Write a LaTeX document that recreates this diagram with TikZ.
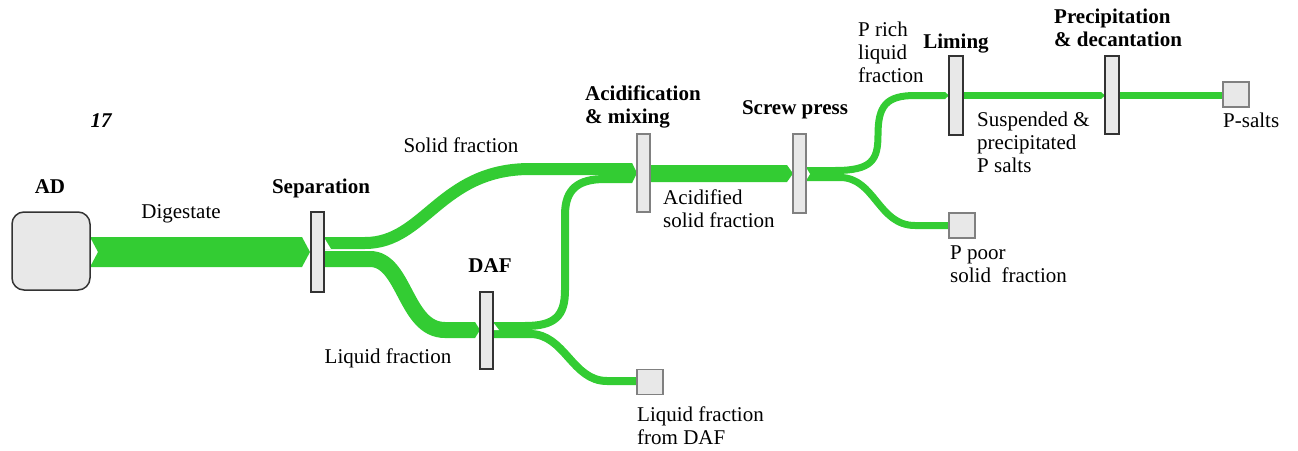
\documentclass[tikz,border=0pt]{standalone}
\usepackage{fontspec}
\setmainfont{Liberation Serif}
\definecolor{flowgreen}{HTML}{33CC33}
\definecolor{barfill}{HTML}{E8E8E8}
\definecolor{darkedge}{HTML}{333333}
\definecolor{greyedge}{HTML}{808080}
\begin{document}
\begin{tikzpicture}[x=1pt,y=-1pt,
  flow/.style={draw=flowgreen, line cap=butt},
  flowfill/.style={fill=flowgreen},
  notch/.style={fill=white},
  bar/.style={draw=darkedge, fill=barfill, line width=1.3pt, minimum width=13pt, inner sep=0pt},
  lightbar/.style={bar, draw=greyedge},
  endbox/.style={draw=greyedge, fill=barfill, line width=1.3pt, minimum width=26pt, minimum height=25pt, inner sep=0pt},
  txt/.style={font=\fontsize{21}{23}\selectfont, inner sep=0pt, anchor=base},
  btxt/.style={font=\fontsize{21}{23}\selectfont\bfseries, inner sep=0pt, anchor=base},
  mtxt/.style={font=\fontsize{21}{23}\selectfont, inner sep=0pt, anchor=base west},
  mbtxt/.style={font=\fontsize{21}{23}\selectfont\bfseries, inner sep=0pt, anchor=base west}]
\useasboundingbox (0,0) rectangle (1298,450);

% ---------- flows ----------
% Digestate
\fill[flowfill] (90,237) -- (302,237) -- (310,252) -- (302,267) -- (90,267) -- (98,252) -- cycle;
% Solid fraction
\draw[flow, line width=12pt] (324,243) -- (365,243) .. controls (425,243) and (440,169) .. (530,169) -- (632,169);
% Liquid fraction
\draw[flow, line width=16pt] (324,259) -- (370,259) .. controls (405,259) and (405,330) .. (445,330) -- (475,330);
\fill[flowfill] (475,322) -- (480,330) -- (475,338) -- cycle;
% DAF solids to acidification
\draw[flow, line width=8pt] (493,326) -- (525,326) .. controls (555,326) and (565,316) .. (565,290) -- (565,215) .. controls (565,189) and (578,179) .. (605,179) -- (632,179);
\fill[flowfill] (632,163) -- (637,173) -- (632,183) -- cycle;
% Liquid fraction from DAF
\draw[flow, line width=8pt] (493,334) -- (530,334) .. controls (565,334) and (572,381) .. (607,381) -- (636,381);
% Acidified solid fraction
\fill[flowfill] (650,165) -- (787,165) -- (793,173.5) -- (787,182) -- (650,182) -- cycle;
% P rich liquid fraction
\draw[flow, line width=7pt] (806,170.5) -- (835,170.5) .. controls (872,170.5) and (878,160) .. (878,135) .. controls (878,106) and (886,95.5) .. (915,95.5) -- (945,95.5);
\fill[flowfill] (945,92) -- (949,95.5) -- (945,99) -- cycle;
% P poor solid fraction
\draw[flow, line width=7pt] (806,177.5) -- (840,177.5) .. controls (875,177.5) and (878,225.5) .. (915,225.5) -- (948,225.5);
% Suspended & precipitated P salts
\draw[flow, line width=7pt] (963,95.5) -- (1101,95.5);
\fill[flowfill] (1101,92) -- (1105,95.5) -- (1101,99) -- cycle;
% P-salts
\draw[flow, line width=7pt] (1119,95.5) -- (1222,95.5);

% notches at outputs
\fill[notch] (323,236) -- (331,249) -- (323,249) -- cycle;
\fill[notch] (492,321) -- (499,330) -- (492,330) -- cycle;
\fill[notch] (805,166) -- (810,174) -- (805,182) -- cycle;

% ---------- nodes ----------
\node[draw=darkedge, fill=barfill, line width=1.5pt, rounded corners=12pt, minimum width=78pt, minimum height=78pt, inner sep=0pt] (ad) at (51,251) {};
\node[bar, minimum height=80pt] (sep) at (317.5,252) {};
\node[bar, minimum height=77pt] (daf) at (486.5,330.5) {};
\node[lightbar, minimum height=78pt] (acid) at (643.5,173) {};
\node[lightbar, minimum height=79pt] (screw) at (799.5,173.5) {};
\node[bar, minimum width=14pt, minimum height=79pt] (lim) at (956,95.5) {};
\node[bar, minimum width=14pt, minimum height=78pt] (prec) at (1112,95) {};
\node[endbox] (dafout) at (650,382) {};
\node[endbox] (poor) at (962,225.5) {};
\node[endbox] (salts) at (1236,94.5) {};

% ---------- labels ----------
\node[btxt] (tad) at (50,193) {AD};
\node[txt, font=\fontsize{21}{23}\selectfont\bfseries\itshape] (tnum) at (101,127) {17};
\node[txt] (tdig) at (181,218) {Digestate};
\node[btxt] (tsep) at (321,193) {Separation};
\node[txt] (tsol) at (461,152) {Solid fraction};
\node[txt] (tliq) at (388,363) {Liquid fraction};
\node[btxt] (tdaf) at (490,272) {DAF};
\node[mbtxt] (tacid) at (585,100) {\begin{tabular}[t]{@{}l@{}}Acidification\\ \& mixing\end{tabular}};
\node[btxt] (tscrew) at (795,114) {Screw press};
\node[mtxt] (tacsol) at (663,204) {\begin{tabular}[t]{@{}l@{}}Acidified\\ solid fraction\end{tabular}};
\node[mtxt] (trich) at (858,36) {\begin{tabular}[t]{@{}l@{}}P rich\\ liquid\\ fraction\end{tabular}};
\node[btxt] (tlim) at (956,48) {Liming};
\node[mbtxt] (tprec) at (1054,23) {\begin{tabular}[t]{@{}l@{}}Precipitation\\ \& decantation\end{tabular}};
\node[mtxt] (tsusp) at (977,126) {\begin{tabular}[t]{@{}l@{}}Suspended \&\\ precipitated\\ P salts\end{tabular}};
\node[mtxt] (tsalts) at (1223,127) {P-salts};
\node[mtxt] (tpoor) at (950,259) {\begin{tabular}[t]{@{}l@{}}P poor\\ solid\ \ fraction\end{tabular}};
\node[mtxt] (tdafl) at (637,421) {\begin{tabular}[t]{@{}l@{}}Liquid fraction\\ from DAF\end{tabular}};
\end{tikzpicture}
\end{document}
